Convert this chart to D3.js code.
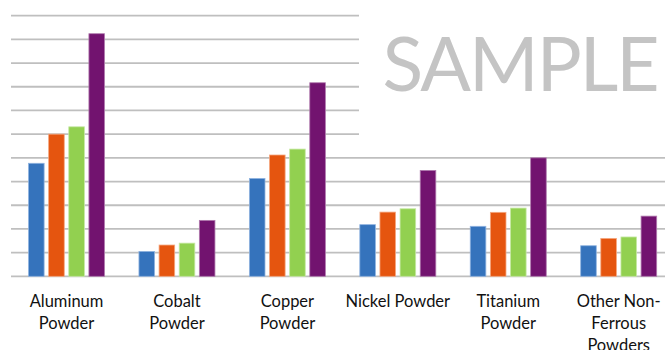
<!DOCTYPE html>
<html>
<head>
<meta charset="utf-8">
<script src="https://cdn.jsdelivr.net/npm/d3@7"></script>
<style>
  body { margin: 0; background: #fff; }
  svg { display: block; }
</style>
</head>
<body>
<svg id="chart" width="665" height="350"></svg>
<script>
var categories = ["Aluminum Powder", "Cobalt Powder", "Copper Powder", "Nickel Powder", "Titanium Powder", "Other Non-Ferrous Powders"]
var tickLabels = [["Aluminum", "Powder"], ["Cobalt", "Powder"], ["Copper", "Powder"], ["Nickel Powder"], ["Titanium", "Powder"], ["Other Non-", "Ferrous", "Powders"]]
var seriesNames = ["s1", "s2", "s3", "s4"]
var s1 = [4.77, 1.05, 4.13, 2.18, 2.11, 1.29]
var s2 = [6.00, 1.32, 5.12, 2.71, 2.70, 1.60]
var s3 = [6.31, 1.40, 5.37, 2.85, 2.88, 1.66]
var s4 = [10.24, 2.36, 8.17, 4.47, 5.00, 2.54]
var colors = ["#3573bc", "#e5550f", "#92d050", "#72136f"]
var strokes = ["#8fb3e0", "#f5a77f", "#c6e8a4", "#b07aae"]
var gridValues = d3.range(0, 12)

var svg = d3.select("#chart")
var baseY = 276.3, topY = 15.7

var y = d3.scaleLinear().domain([0, 11]).range([baseY, topY])
var x = d3.scaleBand().domain(categories).range([11.3, 673.9])
var inner = d3.scaleBand().domain(seriesNames).range([0, 76]).paddingInner(0.225)

// gridlines
svg.append("g")
   .selectAll("line")
   .data(gridValues)
 .enter().append("line")
   .attr("x1", 11)
   .attr("x2", 665)
   .attr("y1", function(d) { return y(d) })
   .attr("y2", function(d) { return y(d) })
   .attr("stroke", "#bfbfbf")
   .attr("stroke-width", 1.8)

// sample watermark box
svg.append("rect")
   .attr("x", 359).attr("y", 0)
   .attr("width", 306).attr("height", 146)
   .attr("fill", "#fff")
svg.append("text")
   .attr("x", 521).attr("y", 90.5)
   .attr("text-anchor", "middle")
   .attr("font-family", "Lato, 'Open Sans', sans-serif")
   .attr("font-weight", 400)
   .attr("font-size", 75)
   .attr("fill", "#c4c4c4")
   .attr("textLength", 277)
   .text("SAMPLE")

var seriesData = [s1, s2, s3, s4]

var groups = svg.append("g")
   .selectAll("g")
   .data(categories)
 .enter().append("g")
   .attr("transform", function(d) {
       return "translate(" + (x(d) + (x.bandwidth() - 76) / 2) + ",0)"
   })

groups.selectAll("rect")
   .data(function(d, i) {
       return seriesNames.map(function(s, j) { return { s: s, j: j, v: seriesData[j][i] } })
   })
 .enter().append("rect")
   .attr("x", function(d) { return inner(d.s) })
   .attr("y", function(d) { return y(d.v) })
   .attr("width", inner.bandwidth())
   .attr("height", function(d) { return baseY - y(d.v) })
   .attr("fill", function(d) { return colors[d.j] })
   .attr("stroke", function(d) { return strokes[d.j] })
   .attr("stroke-width", 0.8)

// category labels
var labels = svg.append("g")
   .selectAll("text")
   .data(categories)
 .enter().append("text")
   .attr("text-anchor", "middle")
   .attr("font-family", "Lato, 'Open Sans', sans-serif")
   .attr("font-size", 16.5)
   .attr("fill", "#111")
   .attr("transform", function(d) {
       return "translate(" + (x(d) + x.bandwidth() / 2) + ",307)"
   })

labels.selectAll("tspan")
   .data(function(d, i) { return tickLabels[i] })
 .enter().append("tspan")
   .attr("x", 0)
   .attr("y", function(d, i) { return i * 22 })
   .text(function(d) { return d })
</script>
</body>
</html>
